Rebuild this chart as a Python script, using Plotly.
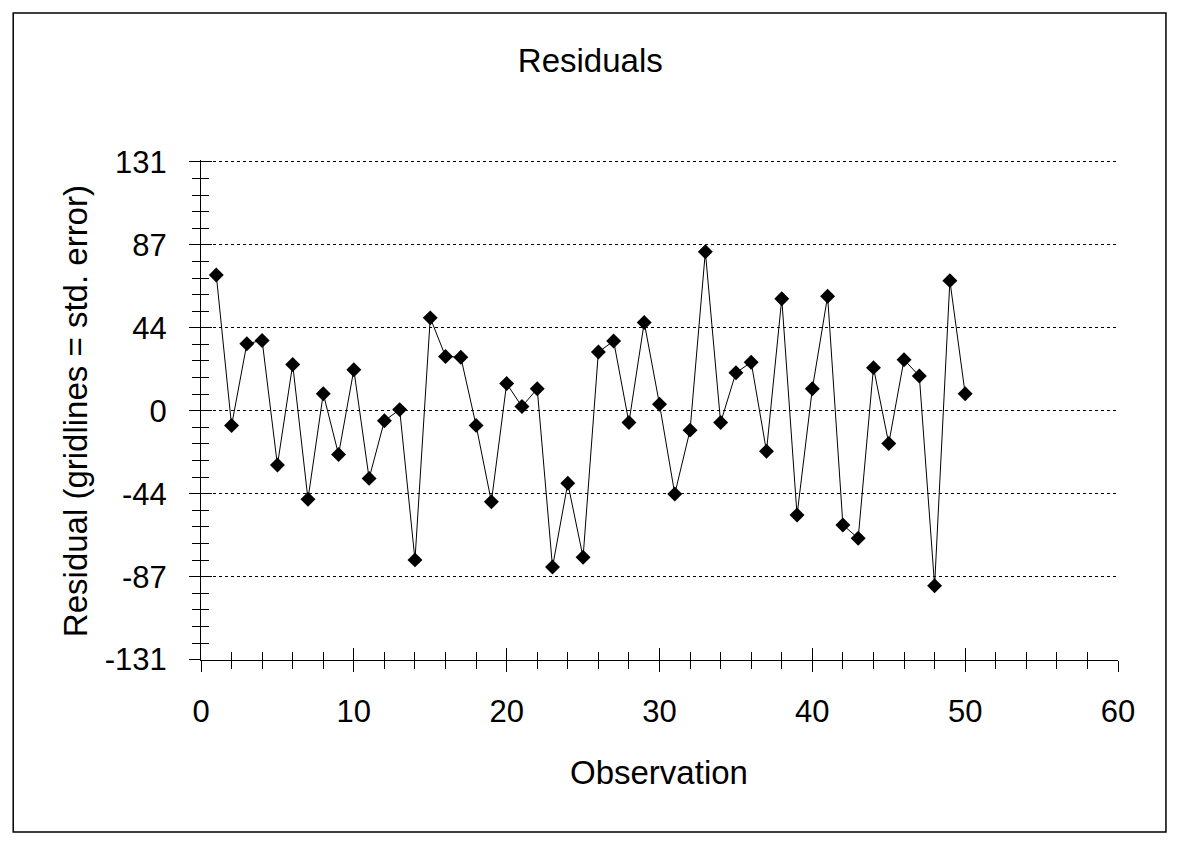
import plotly.graph_objects as go

# ---- data ----
observations = list(range(1, 51))
residuals = [71.5, -7.8, 35.3, 37.0, -28.6, 24.4, -46.6, 9.0, -23.0, 21.6,
             -35.6, -5.3, 0.6, -78.5, 48.9, 28.6, 28.2, -7.7, -47.9, 14.3,
             2.2, 11.6, -82.3, -38.2, -77.1, 30.9, 36.7, -6.2, 46.5, 3.4,
             -43.8, -10.2, 83.7, -6.2, 20.0, 25.5, -21.3, 59.0, -54.9, 11.6,
             60.3, -60.1, -67.1, 22.7, -17.2, 26.9, 18.3, -92.1, 68.5, 9.0]
std_error = 131 / 3
y_tick_vals = [k * std_error for k in range(-3, 4)]
y_tick_text = ["-131", "-87", "-44", "0", "44", "87", "131"]
x_range = [0, 60]
y_range = [-131.2, 132.0]

FONT = "Liberation Sans, Arial, sans-serif"
FS = 31
FT = 33

fig = go.Figure()
fig.add_trace(go.Scatter(
    x=observations, y=residuals, mode="lines+markers",
    line=dict(color="black", width=1),
    marker=dict(symbol="diamond", size=11.5, color="black"),
    showlegend=False, hoverinfo="x+y"))
# helper trace so the overlay (inside-tick) axes are drawn
fig.add_trace(go.Scatter(x=[None], y=[None], xaxis="x2", yaxis="y2",
                         showlegend=False, hoverinfo="skip"))

fig.update_layout(
    width=1183, height=845,
    margin=dict(l=201, r=65, t=160, b=185),
    paper_bgcolor="white", plot_bgcolor="white",
    font=dict(family=FONT, size=FS, color="black"),
    title=dict(text="Residuals", x=0.499, xref="container", xanchor="center",
               y=1 - 60 / 845, yref="container", yanchor="middle",
               font=dict(family=FONT, size=FT, color="black")),
    xaxis=dict(range=x_range, tickmode="linear", tick0=0, dtick=10,
               ticks="outside", ticklen=11, tickwidth=1, tickcolor="black",
               showline=True, linecolor="black", linewidth=1,
               showgrid=False, zeroline=False, ticklabelstandoff=13,
               minor=dict(ticks="outside", ticklen=8, tick0=0, dtick=2,
                          tickcolor="black", tickwidth=1, showgrid=False),
               tickfont=dict(family=FONT, size=FS, color="black")),
    yaxis=dict(range=y_range, tickmode="array", tickvals=y_tick_vals,
               ticktext=y_tick_text,
               ticks="outside", ticklen=11, tickwidth=1, tickcolor="black",
               showline=True, linecolor="black", linewidth=1,
               showgrid=True, gridcolor="black", gridwidth=1, griddash="3px,3px",
               zeroline=False, ticklabelstandoff=16,
               minor=dict(ticks="outside", ticklen=8, tick0=0, dtick=std_error / 5,
                          tickcolor="black", tickwidth=1, showgrid=False),
               tickfont=dict(family=FONT, size=FS, color="black")),
    xaxis2=dict(overlaying="x", range=x_range, tickmode="linear", tick0=0, dtick=10,
                ticks="inside", ticklen=12, tickwidth=1, tickcolor="black",
                showticklabels=False, showgrid=False, zeroline=False, showline=False,
                minor=dict(ticks="inside", ticklen=8, tick0=0, dtick=2,
                           tickcolor="black", tickwidth=1, showgrid=False)),
    yaxis2=dict(overlaying="y", range=y_range, tickmode="array", tickvals=y_tick_vals,
                ticks="inside", ticklen=11, tickwidth=1, tickcolor="black",
                showticklabels=False, showgrid=False, zeroline=False, showline=False,
                minor=dict(ticks="inside", ticklen=8, tick0=0, dtick=std_error / 5,
                           tickcolor="black", tickwidth=1, showgrid=False)),
)

fig.add_annotation(text="Residual (gridlines = std. error)", textangle=-90,
                   xref="paper", yref="paper", x=(75 - 201) / 918, y=0.498,
                   xanchor="center", yanchor="middle", showarrow=False,
                   font=dict(family=FONT, size=FT, color="black"))
fig.add_annotation(text="Observation", xref="paper", yref="paper",
                   x=0.4995, y=(660 - 772) / 500, xanchor="center", yanchor="middle",
                   showarrow=False, font=dict(family=FONT, size=FT, color="black"))

# outer frame
fig.add_shape(type="rect", xref="paper", yref="paper",
              x0=(13 - 201) / 918, x1=(1167 - 201) / 918,
              y0=(660 - 832) / 500, y1=(660 - 13) / 500,
              line=dict(color="black", width=1.5), fillcolor="rgba(0,0,0,0)", layer="below")

fig.write_html("out.html", include_plotlyjs=True,
               config={"displayModeBar": False},
               post_script="document.body.style.margin='0';document.body.style.overflow='hidden';")
